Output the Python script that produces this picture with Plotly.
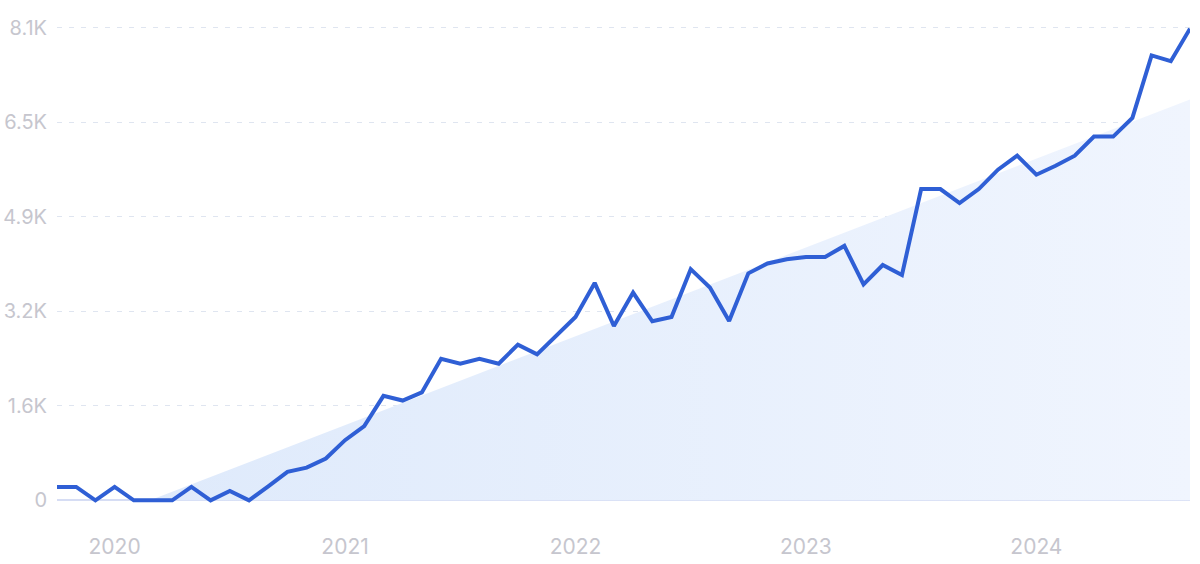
import plotly.graph_objects as go

# Monthly labels, Oct 2019 .. Sep 2024
months = [f"{y}-{m:02d}" for y, m in
          [(2019, 10), (2019, 11), (2019, 12)] +
          [(y, m) for y in range(2020, 2024) for m in range(1, 13)] +
          [(2024, m) for m in range(1, 10)]]

values = [229, 229, 0, 229, 0, 0, 0, 229, 0, 160,
          0, 240, 487, 561, 716, 1031, 1271, 1790, 1710, 1850,
          2427, 2342, 2427, 2342, 2668, 2501, 2828, 3142, 3726, 2987,
          3561, 3068, 3142, 3962, 3647, 3073, 3890, 4059, 4130, 4171,
          4171, 4360, 3702, 4033, 3862, 5334, 5334, 5093, 5334, 5666,
          5906, 5580, 5734, 5906, 6233, 6233, 6554, 7624, 7526, 8083]

# Trend area: zero until ~early Mar 2020, then linear to the end
trend_pos = [0, 4.85, 59]
trend_vals = [0, 0, 6870]

year_pos = [3, 15, 27, 39, 51]
year_labels = ["2020", "2021", "2022", "2023", "2024"]

y_tickvals = [0, 1620, 3240, 4860, 6480, 8100]
y_ticktext = ["0", "1.6K", "3.2K", "4.9K", "6.5K", "8.1K"]

x_pos = list(range(len(months)))

fig = go.Figure()
fig.add_trace(go.Scatter(
    x=trend_pos, y=trend_vals, mode="lines", line=dict(width=0),
    fill="tozeroy",
    fillgradient=dict(type="horizontal",
                      colorscale=[[0, "rgb(221,233,251)"], [1, "rgb(240,245,254)"]]),
    hoverinfo="skip", showlegend=False))
fig.add_trace(go.Scatter(
    x=x_pos, y=values, mode="lines",
    line=dict(color="#2f5fd5", width=4),
    customdata=months, hovertemplate="%{customdata}: %{y}<extra></extra>",
    showlegend=False))

yfont = dict(family="Inter, sans-serif", size=20, color="#c6c6ce")
xfont = dict(family="Inter, sans-serif", size=21, color="#c6c6ce")

fig.update_layout(
    width=1200, height=564,
    margin=dict(l=57, r=10, t=23, b=59),
    plot_bgcolor="white", paper_bgcolor="white",
    xaxis=dict(range=[0, 59], tickvals=year_pos, ticktext=year_labels,
               showgrid=False, zeroline=False, showline=False, ticks="",
               tickfont=xfont, ticklabelstandoff=27, automargin=False),
    yaxis=dict(range=[-80, 8180], tickvals=y_tickvals, ticktext=y_ticktext,
               showgrid=True, gridcolor="#dfe5f0", griddash="5px,7px", gridwidth=1,
               zeroline=True, zerolinecolor="#d6ddf4", zerolinewidth=1.5,
               showline=False, ticks="", tickfont=yfont, ticklabelstandoff=9,
               automargin=False),
)

# remove the browser's default 8px body margin so the figure sits at the page origin
fig.write_html("out.html",
               config={"displayModeBar": False},
               post_script="document.body.style.margin='0';document.body.style.overflow='hidden';")
